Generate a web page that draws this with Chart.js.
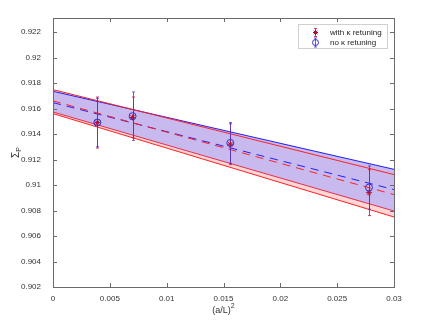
<!DOCTYPE html>
<html>
<head>
<meta charset="utf-8">
<script src="https://cdn.jsdelivr.net/npm/chart.js"></script>
<style>
  html, body { margin: 0; padding: 0; background: #fff; }
</style>
</head>
<body>
<canvas id="chart" width="424" height="329"></canvas>
<script>
// lattice spacing (a/L)^2 of the four data points
const latticeX = [0.0039, 0.0070, 0.0156, 0.0278];

// Sigma_P with kappa retuning (red) and without (blue)
const withRetuning = [0.9149, 0.9153, 0.9132, 0.9094];
const withRetuningErr = [0.0020, 0.0016, 0.0016, 0.0018];
const noRetuning = [0.9149, 0.9154, 0.9133, 0.9098];
const noRetuningErr = [0.0019, 0.0019, 0.0016, 0.0017];

// linear fits, evaluated at the ends of the x range
const fitX = [0, 0.03];
const withFit = [0.91660, 0.90925];
const withFitUpper = [0.91748, 0.91082];
const withFitLower = [0.91560, 0.90749];
const noFit = [0.91646, 0.90964];
const noFitUpper = [0.91735, 0.91123];
const noFitLower = [0.91573, 0.90796];

const xTicks = [0, 0.005, 0.01, 0.015, 0.02, 0.025, 0.03];
const yTicks = [0.902, 0.904, 0.906, 0.908, 0.91, 0.912, 0.914, 0.916, 0.918, 0.92, 0.922];

const legendLabels = ["with \u03ba retuning", "no \u03ba retuning"];

const RED = "#ff2020";
const BLUE = "#2020ff";
const AXIS = "#6a6a6a";
const FONT = "'Liberation Sans', Arial, sans-serif";

const pts = (ys) => fitX.map((x, i) => ({ x: x, y: ys[i] }));
const fmt = (v) => String(Number(v.toFixed(4)));

// error bars, drawn just before the marker datasets
const errorBars = {
  id: "errorBars",
  beforeDatasetDraw(chart, args) {
    if (chart.data.datasets[args.index].label !== legendLabels[0]) return;
    const ctx = chart.ctx;
    const xs = chart.scales.x, ys = chart.scales.y;
    const series = [
      [withRetuning, withRetuningErr, "rgba(200,30,70,0.85)"],
      [noRetuning, noRetuningErr, "rgba(70,50,210,0.75)"],
    ];
    ctx.save();
    ctx.lineWidth = 1;
    series.forEach(([vals, errs, col]) => {
      ctx.strokeStyle = col;
      vals.forEach((v, i) => {
        const px = Math.round(xs.getPixelForValue(latticeX[i])) + 0.5;
        const top = ys.getPixelForValue(v + errs[i]);
        const bot = ys.getPixelForValue(v - errs[i]);
        ctx.beginPath();
        ctx.moveTo(px, top); ctx.lineTo(px, bot);
        ctx.moveTo(px - 1.5, top); ctx.lineTo(px + 1.5, top);
        ctx.moveTo(px - 1.5, bot); ctx.lineTo(px + 1.5, bot);
        ctx.stroke();
      });
    });
    ctx.restore();
  },
};

// matlab-like box, inward ticks, axis titles and legend
const frame = {
  id: "frame",
  afterDraw(chart) {
    const ctx = chart.ctx;
    const a = chart.chartArea;
    const xs = chart.scales.x, ys = chart.scales.y;
    ctx.save();
    ctx.strokeStyle = AXIS;
    ctx.lineWidth = 1;
    ctx.strokeRect(Math.round(a.left) + 0.5, Math.round(a.top) + 0.5,
      Math.round(a.right - a.left), Math.round(a.bottom - a.top));
    ctx.beginPath();
    xTicks.forEach((t) => {
      const px = Math.round(xs.getPixelForValue(t)) + 0.5;
      ctx.moveTo(px, a.bottom); ctx.lineTo(px, a.bottom - 4);
      ctx.moveTo(px, a.top); ctx.lineTo(px, a.top + 4);
    });
    yTicks.forEach((t) => {
      const py = Math.round(ys.getPixelForValue(t)) + 0.5;
      ctx.moveTo(a.left, py); ctx.lineTo(a.left + 4, py);
      ctx.moveTo(a.right, py); ctx.lineTo(a.right - 4, py);
    });
    ctx.stroke();

    // x title (a/L)^2
    ctx.fillStyle = "#333";
    ctx.textBaseline = "middle";
    ctx.font = "9px " + FONT;
    const base = "(a/L)";
    const w1 = ctx.measureText(base).width;
    ctx.font = "7px " + FONT;
    const w2 = ctx.measureText("2").width;
    const cx = (a.left + a.right) / 2 - (w1 + w2) / 2;
    ctx.font = "9px " + FONT;
    ctx.textAlign = "left";
    ctx.fillText(base, cx, 311);
    ctx.font = "7px " + FONT;
    ctx.fillText("2", cx + w1, 306);

    // y title Sigma_P
    ctx.save();
    ctx.translate(16, (a.top + a.bottom) / 2);
    ctx.rotate(-Math.PI / 2);
    ctx.font = "10px " + FONT;
    const s1 = ctx.measureText("\u03a3").width;
    ctx.font = "7px " + FONT;
    const s2 = ctx.measureText("P").width;
    ctx.font = "10px " + FONT;
    ctx.fillText("\u03a3", -(s1 + s2) / 2, 0);
    ctx.font = "7px " + FONT;
    ctx.fillText("P", -(s1 + s2) / 2 + s1, 3);
    ctx.restore();

    // legend
    const lx = 298.5, ly = 24.5, lw = 89, lh = 24;
    ctx.fillStyle = "#fff";
    ctx.fillRect(lx, ly, lw, lh);
    ctx.strokeStyle = "#d0d0d0";
    ctx.strokeRect(lx, ly, lw, lh);
    ctx.font = "8px " + FONT;
    ctx.fillStyle = "#222";
    ctx.fillText(legendLabels[0], 330, 32.5);
    ctx.fillText(legendLabels[1], 330, 42.5);
    ctx.lineWidth = 1;
    // red entry
    ctx.strokeStyle = "rgba(200,30,70,0.85)";
    ctx.beginPath();
    ctx.moveTo(315.5, 28.5); ctx.lineTo(315.5, 36.5);
    ctx.moveTo(314, 28.5); ctx.lineTo(317, 28.5);
    ctx.moveTo(314, 36.5); ctx.lineTo(317, 36.5);
    ctx.stroke();
    ctx.strokeStyle = "#b01030";
    ctx.beginPath();
    ctx.moveTo(313, 32.5); ctx.lineTo(318, 32.5);
    ctx.moveTo(315.5, 30); ctx.lineTo(315.5, 35);
    ctx.moveTo(313.7, 30.7); ctx.lineTo(317.3, 34.3);
    ctx.moveTo(313.7, 34.3); ctx.lineTo(317.3, 30.7);
    ctx.stroke();
    // blue entry
    ctx.strokeStyle = "rgba(70,50,210,0.8)";
    ctx.beginPath();
    ctx.moveTo(315.5, 38); ctx.lineTo(315.5, 47);
    ctx.moveTo(314, 38); ctx.lineTo(317, 38);
    ctx.moveTo(314, 47); ctx.lineTo(317, 47);
    ctx.stroke();
    ctx.strokeStyle = "#3030d0";
    ctx.beginPath();
    ctx.arc(315.5, 42.5, 3, 0, Math.PI * 2);
    ctx.stroke();
    ctx.restore();
  },
};

new Chart(document.getElementById("chart"), {
  type: "scatter",
  data: {
    datasets: [
      // bands (fills only)
      { label: "withBandUp", type: "line", data: pts(withFitUpper), borderWidth: 0, pointRadius: 0,
        backgroundColor: "rgb(255,214,214)", fill: { target: 1 }, order: 20 },
      { label: "withBandLo", type: "line", data: pts(withFitLower), borderWidth: 0, pointRadius: 0,
        fill: false, order: 20 },
      { label: "noBandUp", type: "line", data: pts(noFitUpper), borderWidth: 0, pointRadius: 0,
        backgroundColor: "rgb(200,186,238)", fill: { target: 3 }, order: 18 },
      { label: "noBandLo", type: "line", data: pts(noFitLower), borderWidth: 0, pointRadius: 0,
        fill: false, order: 18 },
      // fit lines
      { label: "noFitUp", type: "line", data: pts(noFitUpper), borderColor: BLUE, borderWidth: 1,
        pointRadius: 0, fill: false, order: 10 },
      { label: "noFitLo", type: "line", data: pts(noFitLower), borderColor: "#e03050", borderWidth: 1,
        pointRadius: 0, fill: false, order: 10 },
      { label: "withFitUp", type: "line", data: pts(withFitUpper), borderColor: RED, borderWidth: 1,
        pointRadius: 0, fill: false, order: 9 },
      { label: "withFitLo", type: "line", data: pts(withFitLower), borderColor: RED, borderWidth: 1,
        pointRadius: 0, fill: false, order: 9 },
      { label: "noFit", type: "line", data: pts(noFit), borderColor: BLUE, borderWidth: 1,
        borderDash: [8, 6], pointRadius: 0, fill: false, order: 8 },
      { label: "withFit", type: "line", data: pts(withFit), borderColor: RED, borderWidth: 1,
        borderDash: [8, 6], pointRadius: 0, fill: false, order: 7 },
      // data points
      { label: legendLabels[0], data: latticeX.map((x, i) => ({ x: x, y: withRetuning[i] })),
        pointStyle: "star", pointRadius: 3, borderColor: "#b01030", borderWidth: 1,
        backgroundColor: "#b01030", order: 2 },
      { label: legendLabels[1], data: latticeX.map((x, i) => ({ x: x, y: noRetuning[i] })),
        pointStyle: "circle", pointRadius: 3.5, borderColor: "#3030d0", borderWidth: 1,
        backgroundColor: "rgba(0,0,0,0)", order: 1 },
    ],
  },
  options: {
    responsive: false,
    animation: false,
    layout: { padding: { top: 18, right: 30, left: 0, bottom: 0 } },
    plugins: { legend: { display: false }, tooltip: { enabled: false } },
    scales: {
      x: {
        type: "linear", min: 0, max: 0.03,
        grid: { display: false }, border: { display: false },
        afterBuildTicks: (s) => { s.ticks = xTicks.map((v) => ({ value: v })); },
        afterFit: (s) => { s.height = 42; },
        ticks: { callback: (v) => fmt(v), color: "#333", padding: -1,
          font: { size: 8, family: FONT }, maxRotation: 0 },
      },
      y: {
        type: "linear", min: 0.902, max: 0.9231,
        grid: { display: false }, border: { display: false },
        afterBuildTicks: (s) => { s.ticks = yTicks.map((v) => ({ value: v })); },
        afterFit: (s) => { s.width = 53; },
        ticks: { callback: (v) => fmt(v), color: "#333", padding: 4,
          font: { size: 8, family: FONT } },
      },
    },
  },
  plugins: [errorBars, frame],
});
</script>
</body>
</html>
